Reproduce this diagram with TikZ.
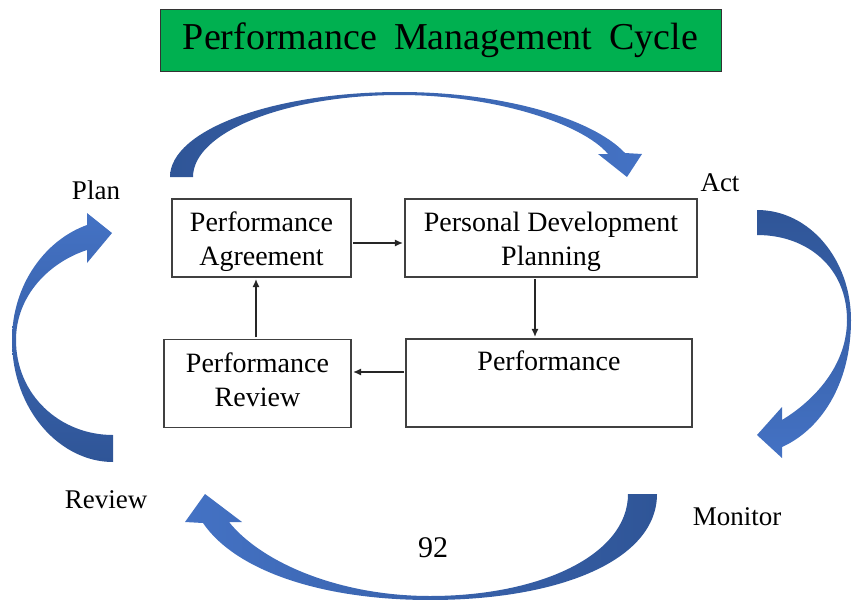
\documentclass[tikz,border=0pt]{standalone}
\usepackage{fontspec}
\setmainfont{Liberation Serif}
\usetikzlibrary{arrows.meta}
\definecolor{arrdark}{HTML}{2F5597}
\definecolor{arrlight}{HTML}{4472C4}
\definecolor{titlegreen}{HTML}{00B050}
\begin{document}
\begin{tikzpicture}[x=1pt,y=-1pt,
  box/.style={draw=black!75, line width=1.3pt, align=center, inner sep=0pt,
    font=\fontsize{28}{34}\selectfont},
  conn/.style={draw=black!85, line width=1.1pt, -{Latex[length=8pt,width=7pt]},
    shorten <=1.5pt, shorten >=1.5pt},
  lbl/.style={font=\fontsize{27}{32}\selectfont, inner sep=0pt}]
\useasboundingbox (0,0) rectangle (852,600);

% title
\node[draw=black!80, line width=1pt, fill=titlegreen, minimum width=561pt,
  minimum height=62pt, inner sep=0pt, font=\fontsize{38}{40}\selectfont]
  (title) at (440.5,40) {\spaceskip=17pt Performance Management Cycle};

% boxes
\node[box, minimum width=179pt, minimum height=78pt] (pa) at (261.5,238)
  {\rule{0pt}{28pt}Performance\\Agreement};
\node[box, minimum width=292pt, minimum height=78pt] (pdp) at (551,238)
  {\rule{0pt}{28pt}Personal Development\\Planning};
\node[box, minimum width=187pt, minimum height=88pt] (pr) at (257.5,383.5)
  {Performance\\Review\rule[-8pt]{0pt}{0pt}};
\node[box, minimum width=286pt, minimum height=88pt] (pf) at (549,383)
  {Performance\\\strut};

% connectors
\draw[conn] ([yshift=-5pt]pa.east) -- ([yshift=-5pt]pa.east -| pdp.west);
\draw[conn] ([xshift=-16pt]pdp.south) -- ([xshift=-16pt]pdp.south |- pf.north);
\draw[conn] ([yshift=11pt]pf.west) -- ([yshift=11pt]pf.west -| pr.east);
\draw[conn] ([xshift=-1.5pt]pr.north) -- ([xshift=-1.5pt]pr.north |- pa.south);

% labels
\node[lbl] (plan) at (96,190) {Plan};
\node[lbl] (act) at (720,183) {Act};
\node[lbl] (review) at (106,500) {Review};
\node[lbl] (monitor) at (737,517) {Monitor};
\node[lbl, font=\fontsize{30}{34}\selectfont] (page) at (433,548) {92};

% big curved arrows
\shade[left color=arrdark, right color=arrlight]
  (170,177) .. controls (170,130) and (273,92) .. (400,92)
  .. controls (501,92) and (592,118) .. (625,153)
  -- (642,154) -- (627,177) -- (598,154) -- (608,154)
  .. controls (583,124) and (495,95) .. (400,95)
  .. controls (286,95) and (193,132) .. (193,177) -- cycle;

\shade[top color=arrdark, bottom color=arrlight]
  (757,210) .. controls (810,210) and (851,260) .. (851,320)
  .. controls (851,385) and (820,430) .. (782,447)
  -- (782,458) -- (757,435) -- (782,407) -- (782,420)
  .. controls (815,400) and (847,365) .. (847,320)
  .. controls (847,268) and (808,235) .. (757,235) -- cycle;

\shade[left color=arrlight, right color=arrdark]
  (657,494) .. controls (657,560) and (560,600) .. (430,600)
  .. controls (320,600) and (235,570) .. (203,523)
  -- (185,522) -- (205,494) -- (242,522) -- (229,522)
  .. controls (262,563) and (340,596) .. (430,596)
  .. controls (540,596) and (628,555) .. (628,494) -- cycle;

\shade[top color=arrlight, bottom color=arrdark]
  (113,462) .. controls (60,462) and (12,410) .. (12,340)
  .. controls (12,285) and (45,240) .. (87,225)
  -- (87,213) -- (112,233) -- (87,263) -- (87,250)
  .. controls (50,262) and (16,295) .. (16,340)
  .. controls (16,395) and (60,435) .. (113,435) -- cycle;
\end{tikzpicture}
\end{document}
